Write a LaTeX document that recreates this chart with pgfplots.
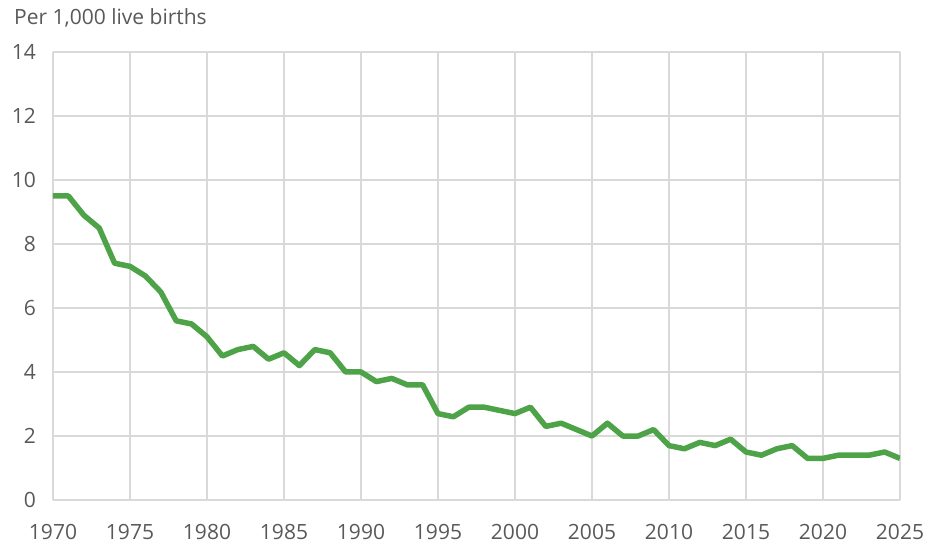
\documentclass[border=0pt]{standalone}
\usepackage{fontspec}
\setmainfont{Open Sans}
\usepackage{pgfplots}
\pgfplotsset{compat=1.18}
\definecolor{linegreen}{HTML}{4EA348}
\definecolor{txtgray}{HTML}{595959}
\definecolor{gridgray}{HTML}{D9D9D9}
\begin{document}
\fontsize{21bp}{25bp}\selectfont
\begin{tikzpicture}
\begin{axis}[
  scale only axis,
  width=847bp, height=448bp,
  xmin=1970, xmax=2025, ymin=0, ymax=14,
  xtick={1970,1975,...,2025},
  ytick={0,2,...,14},
  grid=major,
  major grid style={gridgray, line width=1.6bp},
  axis line style={draw=none},
  tick style={draw=none},
  /pgf/number format/assume math mode=true,
  /pgf/number format/1000 sep={},
  ticklabel style={font=\fontsize{21bp}{25bp}\selectfont, text=txtgray},
  yticklabel style={xshift=-10bp},
  xticklabel style={anchor=center, yshift=-32bp},
]
\addplot[linegreen, line width=5.5bp, line join=round] coordinates {
(1970,9.5)(1971,9.5)(1972,8.9)(1973,8.5)(1974,7.4)(1975,7.3)(1976,7.0)(1977,6.5)(1978,5.6)(1979,5.5)
(1980,5.1)(1981,4.5)(1982,4.7)(1983,4.8)(1984,4.4)(1985,4.6)(1986,4.2)(1987,4.7)(1988,4.6)(1989,4.0)
(1990,4.0)(1991,3.7)(1992,3.8)(1993,3.6)(1994,3.6)(1995,2.7)(1996,2.6)(1997,2.9)(1998,2.9)(1999,2.8)
(2000,2.7)(2001,2.9)(2002,2.3)(2003,2.4)(2004,2.2)(2005,2.0)(2006,2.4)(2007,2.0)(2008,2.0)(2009,2.2)
(2010,1.7)(2011,1.6)(2012,1.8)(2013,1.7)(2014,1.9)(2015,1.5)(2016,1.4)(2017,1.6)(2018,1.7)(2019,1.3)
(2020,1.3)(2021,1.4)(2022,1.4)(2023,1.4)(2024,1.5)(2025,1.3)
};
\end{axis}
\node[anchor=west, text=txtgray, inner sep=0pt] at (-39bp,482bp) {Per 1,000 live births};
\pgfresetboundingbox
\path[use as bounding box] (-53bp,-44bp) rectangle (874bp,500bp);
\end{tikzpicture}
\end{document}
